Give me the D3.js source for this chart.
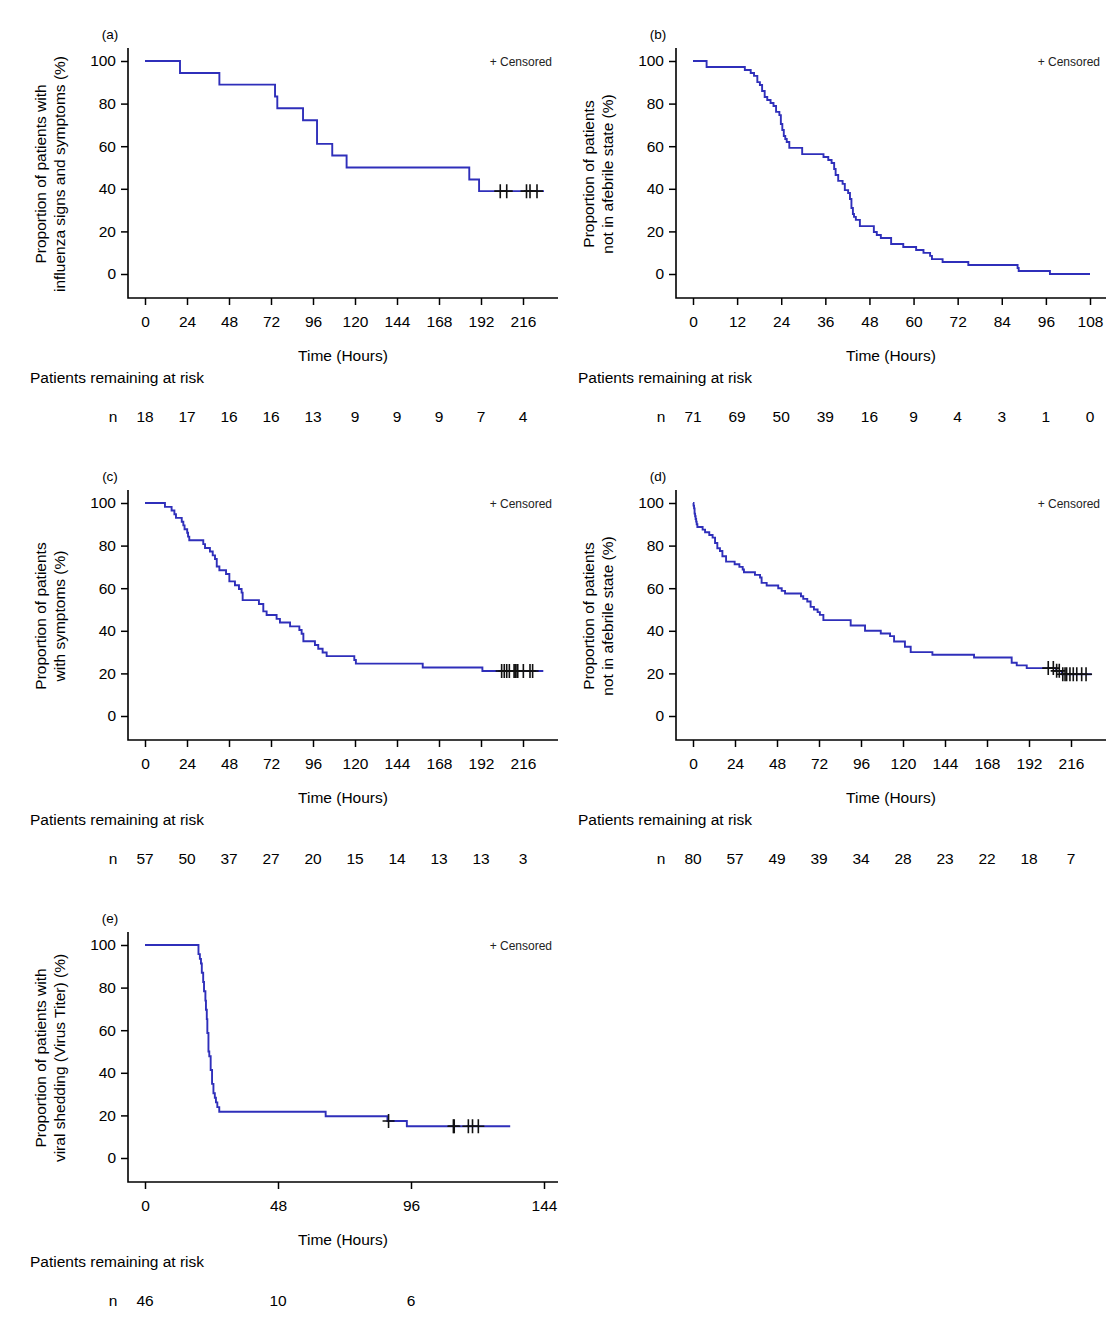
<!DOCTYPE html>
<html>
<head>
<meta charset="utf-8">
<script src="https://cdn.jsdelivr.net/npm/d3@7"></script>
<style>
  body { margin: 0; background: #fff; }
  text { font-family: "Liberation Sans", Arial, sans-serif; }
</style>
</head>
<body>
<div id="chart"></div>
<script>
// Kaplan-Meier steps: [time (h), proportion (%)] - value holds from that time on
const stepsA = [[0,100],[20,94.4],[42.5,88.9],[74.3,83.3],[75.6,77.8],[90.3,72.2],[98.3,61.1],[107,55.6],[115.2,50],[185.3,44.4],[190.9,38.9]];
const endA = 228;
const censA = [[203,38.9],[206.7,38.9],[218,38.9],[220,38.9],[224,38.9]];
const ticksA = [0,24,48,72,96,120,144,168,192,216];
const riskA = [18,17,16,16,13,9,9,9,7,4];

const stepsB = [[0,100],[3.7,97.2],[14.1,95.8],[15.7,94.4],[16.6,93.0],[17.5,90.1],[18.2,88.7],[18.8,85.9],[19.5,83.1],[20.2,81.7],[21.1,80.3],[21.9,78.9],[22.6,76.1],[23.5,74.6],[23.9,70.4],[24.3,67.6],[24.7,64.8],[25.1,63.4],[25.5,62.0],[26.2,59.2],[29.7,56.3],[35.5,54.9],[36.8,53.5],[37.7,52.1],[38.4,49.3],[38.8,46.5],[39.5,43.7],[40.7,42.3],[41.3,39.4],[42.2,38.0],[42.7,35.2],[43.1,31.0],[43.5,28.2],[43.8,26.8],[44.3,25.4],[45.4,22.5],[49.2,19.7],[50.0,18.3],[51.1,16.9],[53.9,14.1],[57.2,12.7],[60.7,11.3],[62.7,9.9],[64.5,8.5],[65.0,7.0],[67.9,5.6],[74.9,4.2],[88.3,2.8],[88.6,1.4],[97.1,0]];
const endB = 108;
const censB = [];
const ticksB = [0,12,24,36,48,60,72,84,96,108];
const riskB = [71,69,50,39,16,9,4,3,1,0];

const stepsC = [[0,100],[11.4,98.2],[15.2,96.5],[16.8,94.7],[17.7,93.0],[21,91.2],[21.9,89.5],[22.6,87.7],[24.1,86.0],[24.6,84.2],[25.3,82.5],[33.3,80.7],[34.3,78.9],[37.1,77.2],[38.7,75.4],[40,73.7],[41,70.2],[42.5,68.4],[46.3,66.7],[48.2,63.2],[51.4,61.4],[53.7,59.6],[55.2,57.9],[55.8,54.4],[65.1,52.6],[67.6,49.1],[69.5,47.4],[75.2,45.6],[77.1,43.9],[82.9,42.1],[88.2,40.4],[89.5,38.6],[90.5,35.1],[97.1,33.3],[99,31.6],[101.5,29.8],[103.8,28.1],[119.6,26.3],[120.5,24.6],[158.7,22.8],[192.8,21.1]];
const endC = 227.6;
const censC = [[203.8,21.1],[205.3,21.1],[206.7,21.1],[208.2,21.1],[210.9,21.1],[211.5,21.1],[212,21.1],[213,21.1],[216.2,21.1],[220,21.1],[221.5,21.1]];
const ticksC = [0,24,48,72,96,120,144,168,192,216];
const riskC = [57,50,37,27,20,15,14,13,13,3];

const stepsD = [[0,100],[0.3,98.75],[0.6,97.5],[0.9,95],[1.2,93.75],[1.5,92.5],[1.8,91.25],[2.1,90],[2.5,88.75],[5.5,87.5],[6.9,86.25],[9.3,85],[11.2,83.75],[12.6,81.25],[13.9,78.75],[15.4,77.5],[16.8,75],[18.9,72.5],[23.8,71.25],[26.5,70],[28.4,68.75],[29.1,67.5],[35.4,66.25],[38.3,65],[39.2,62.5],[42.1,61.25],[48.7,60],[50.7,58.75],[52.6,57.5],[61.7,56.25],[63,55],[65.3,53.75],[67.2,51.25],[69.1,50],[71.2,48.75],[72.5,47.5],[74.5,45],[90.1,42.5],[98.3,40],[107.3,38.75],[112.6,37.5],[114.9,35],[121.1,32.5],[124.4,30],[136.8,28.75],[160.6,27.5],[182.1,25],[185,23.75],[190.7,22.5],[207.5,21.2],[210.8,19.6]];
const endD = 227.8;
const censD = [[203,22.5],[205.9,22.5],[207.8,21.2],[209.3,21.2],[211.3,19.6],[212.6,19.6],[213.5,19.6],[215.4,19.6],[217.3,19.6],[219.3,19.6],[222.1,19.6],[224.6,19.6]];
const ticksD = [0,24,48,72,96,120,144,168,192,216];
const riskD = [80,57,49,39,34,28,23,22,18,7];

const stepsE = [[0,100],[19.3,95.7],[19.8,93.5],[20.2,91.3],[20.5,87.0],[21.0,82.6],[21.3,78.3],[21.8,73.9],[22.0,69.6],[22.3,65.2],[22.5,58.7],[22.9,50],[23.2,47.8],[23.7,41.3],[24.2,34.8],[24.7,30.4],[25.2,28.3],[25.6,26.1],[26.1,23.9],[26.8,21.7],[65.2,19.6],[87.5,17.4],[94.5,14.9]];
const endE = 131.8;
const censE = [[87.9,17.4],[111.3,14.9],[111.6,14.9],[116.7,14.9],[118.2,14.9],[120.3,14.9]];
const ticksE = [0,48,96,144];
const riskE = [46,10,6];

const yTicks = [0,20,40,60,80,100];

const panels = [
  {label:"(a)", ox:0,   oy:0,   span:378, steps:stepsA, end:endA, cens:censA, ticks:ticksA, risk:riskA,
   title:["Proportion of patients with","influenza signs and symptoms (%)"]},
  {label:"(b)", ox:548, oy:0,   span:397, steps:stepsB, end:endB, cens:censB, ticks:ticksB, risk:riskB,
   title:["Proportion of patients","not in afebrile state (%)"]},
  {label:"(c)", ox:0,   oy:442, span:378, steps:stepsC, end:endC, cens:censC, ticks:ticksC, risk:riskC,
   title:["Proportion of patients","with symptoms (%)"]},
  {label:"(d)", ox:548, oy:442, span:378, steps:stepsD, end:endD, cens:censD, ticks:ticksD, risk:riskD,
   title:["Proportion of patients","not in afebrile state (%)"]},
  {label:"(e)", ox:0,   oy:884, span:399, steps:stepsE, end:endE, cens:censE, ticks:ticksE, risk:riskE,
   title:["Proportion of patients with","viral shedding (Virus Titer) (%)"]}
];

const svg = d3.select("#chart").append("svg")
    .attr("width", 1120).attr("height", 1326)
    .style("background", "#fff");

function drawPanel(p) {
    const g = svg.append("g").attr("transform", `translate(${p.ox},${p.oy})`);
    const axL = 128, axR = 558, axT = 48, axB = 298, x0 = 145;
    const x = d3.scaleLinear().domain([0, d3.max(p.ticks)]).range([x0, x0 + p.span]);
    const y = d3.scaleLinear().domain([0, 100]).range([274, 61]);

    // x axis ticks + labels
    const xa = g.append("g").attr("transform", `translate(0,${axB})`)
        .call(d3.axisBottom(x).tickValues(p.ticks).tickSize(7).tickPadding(11).tickFormat(d3.format("d")));
    xa.select(".domain").remove();
    xa.attr("font-size", 15.5).attr("font-family", null);
    xa.selectAll("line").attr("stroke", "#000").attr("stroke-width", 1.5);

    const ya = g.append("g").attr("transform", `translate(${axL},0)`)
        .call(d3.axisLeft(y).tickValues(yTicks).tickSize(7).tickPadding(5));
    ya.select(".domain").remove();
    ya.attr("font-size", 15.5).attr("font-family", null);
    ya.selectAll("line").attr("stroke", "#000").attr("stroke-width", 1.5);

    g.append("path")
        .attr("d", `M${axL},${axT}V${axB}H${axR}`)
        .attr("fill", "none").attr("stroke", "#000").attr("stroke-width", 1.6);

    // survival curve
    const pts = p.steps.concat([[p.end, p.steps[p.steps.length - 1][1]]]);
    const line = d3.line().x(d => x(d[0])).y(d => y(d[1])).curve(d3.curveStepAfter);
    g.append("path").datum(pts)
        .attr("d", line)
        .attr("fill", "none")
        .attr("stroke", "#2f2fba")
        .attr("stroke-width", 1.9);

    // censored marks
    g.selectAll(".cens").data(p.cens).enter().append("path")
        .attr("class", "cens")
        .attr("d", d => `M${x(d[0]) - 6},${y(d[1])}H${x(d[0]) + 6}M${x(d[0])},${y(d[1]) - 7}V${y(d[1]) + 7}`)
        .attr("stroke", "#111").attr("stroke-width", 1.6).attr("fill", "none");

    // texts
    g.append("text").attr("x", 110).attr("y", 34)
        .attr("text-anchor", "middle").attr("dominant-baseline", "central")
        .attr("font-size", 13.5).text(p.label);

    g.append("text").attr("x", 552).attr("y", 62)
        .attr("text-anchor", "end").attr("dominant-baseline", "central")
        .attr("font-size", 12).attr("fill", "#222").text("+ Censored");

    p.title.forEach((t, i) => {
        g.append("text")
            .attr("transform", `translate(${40 + i * 19},${174}) rotate(-90)`)
            .attr("text-anchor", "middle").attr("dominant-baseline", "central")
            .attr("font-size", 15.5).text(t);
    });

    g.append("text").attr("x", (axL + axR) / 2).attr("y", 355)
        .attr("text-anchor", "middle").attr("dominant-baseline", "central")
        .attr("font-size", 15.5).text("Time (Hours)");

    g.append("text").attr("x", 30).attr("y", 377)
        .attr("dominant-baseline", "central")
        .attr("font-size", 15.5).text("Patients remaining at risk");

    g.append("text").attr("x", 113).attr("y", 416)
        .attr("text-anchor", "middle").attr("dominant-baseline", "central")
        .attr("font-size", 15.5).text("n");

    g.selectAll(".risk").data(p.risk).enter().append("text")
        .attr("class", "risk")
        .attr("x", (d, i) => x(p.ticks[i]))
        .attr("y", 416)
        .attr("text-anchor", "middle").attr("dominant-baseline", "central")
        .attr("font-size", 15.5).text(d => d);
}

panels.forEach(drawPanel);
</script>
</body>
</html>
